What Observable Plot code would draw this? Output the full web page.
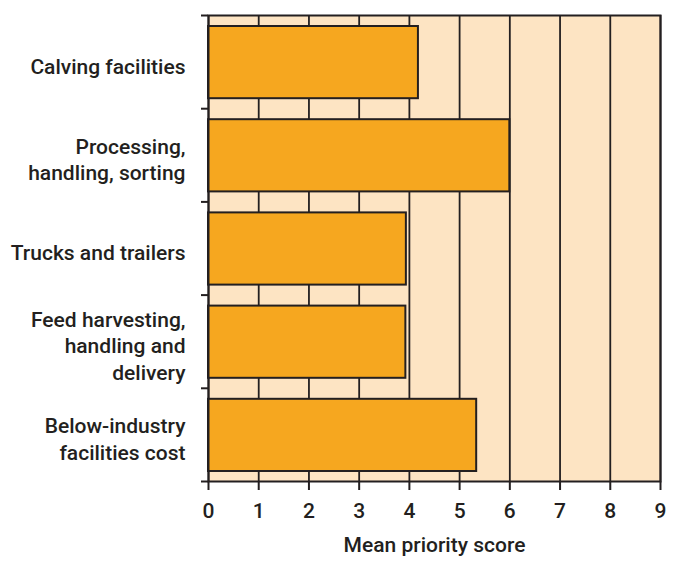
<!DOCTYPE html>
<html><head><meta charset="utf-8">
<script src="https://cdn.jsdelivr.net/npm/d3@7"></script>
<script src="https://cdn.jsdelivr.net/npm/@observablehq/plot@0.6"></script>
<style>body{margin:0;background:#fff} svg{display:block}</style>
</head><body><div id="chart"></div>
<script>
const categories = ["Calving facilities", "Processing,\nhandling, sorting", "Trucks and trailers", "Feed harvesting,\nhandling and\ndelivery", "Below-industry\nfacilities cost"];
const scores = [4.18, 6.0, 3.94, 3.93, 5.34];
const xTicks = [0, 1, 2, 3, 4, 5, 6, 7, 8, 9];
const xLabel = "Mean priority score";

const data = categories.map((c, i) => ({category: c, score: scores[i], y1: i, y2: i + 1}));
const bounds = d3.range(categories.length + 1);
const ink = "#231F20";

const chart = Plot.plot({
  width: 679,
  height: 574,
  marginLeft: 208,
  marginRight: 19,
  marginTop: 15,
  marginBottom: 93,
  style: {fontFamily: "Roboto", fontSize: "21px", fontWeight: 500, color: ink, background: "#fff"},
  x: {domain: [0, 9]},
  y: {domain: [0, categories.length], reverse: true},
  marks: [
    Plot.frame({fill: "#FDE4C3", stroke: null}),
    Plot.gridX(xTicks, {stroke: ink, strokeOpacity: 1, strokeWidth: 1.8}),
    Plot.rect(data, {x1: 0, x2: "score", y1: "y1", y2: "y2", insetTop: 11, insetBottom: 10, fill: "#F6A71F", stroke: ink, strokeWidth: 2}),
    Plot.frame({stroke: ink, strokeWidth: 2}),
    Plot.axisY({ticks: bounds, tickSize: 7, tickFormat: () => "", label: null, stroke: ink, strokeWidth: 2}),
    Plot.axisX({ticks: xTicks, tickSize: 9, tickPadding: 13, tickFormat: d => String(d), label: null, stroke: ink, strokeWidth: 2, fontSize: 21, fill: ink}),
    Plot.text(data, {frameAnchor: "left", y: d => d.y1 + 0.5, text: "category", textAnchor: "end", dx: -23, dy: 3, lineHeight: 1.27, fontSize: 21, fontWeight: 500, fill: ink}),
    Plot.text([xLabel], {frameAnchor: "bottom", text: d => d, dy: 70, fontSize: 21, fontWeight: 500, fill: ink})
  ]
});
document.getElementById("chart").append(chart);
</script>
</body></html>
